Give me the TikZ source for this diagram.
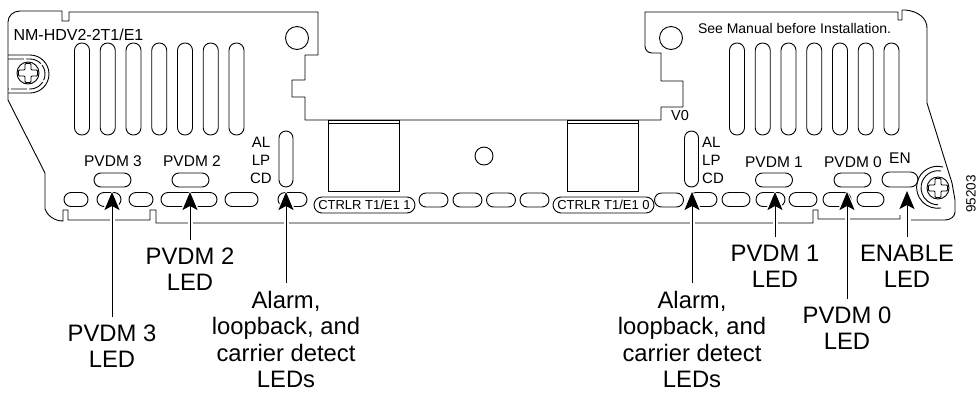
\documentclass[tikz,border=0pt]{standalone}
\usepackage{fontspec}
\setmainfont{Liberation Sans}
\usetikzlibrary{arrows.meta,positioning,shapes.misc}
\tikzset{
  panel/.style={draw,line width=0.9pt,line join=round},
  vslot/.style={draw,line width=0.9pt,rounded corners=7.4pt,minimum width=15pt,minimum height=92pt,inner sep=0pt},
  alslot/.style={vslot,rounded corners=7pt,minimum width=14pt,minimum height=56pt},
  led/.style={draw,line width=0.9pt,rounded rectangle,minimum width=#1,minimum height=14pt,inner sep=0pt},
  port/.style={draw,line width=0.9pt,minimum width=71pt,minimum height=71pt,inner sep=0pt},
  small/.style={inner sep=0pt,font=\fontsize{15.5}{18}\selectfont},
  callout/.style={inner sep=0pt,outer sep=8pt,align=center,font=\fontsize{23.8}{26.3}\selectfont},
  tip/.style={-{Stealth[length=18pt,width=15pt,inset=4pt]},line width=1pt,
    preaction={draw=white,line width=5pt,-{Stealth[length=24pt,width=22pt,inset=4pt]},shorten >=-2pt}},
  screw/.pic={
    \draw[line width=0.9pt] (0,0) circle (11);
    \draw[line width=0.9pt,rounded corners=1pt] (-3,-9.5) -- (3,-9.5) -- (3,-3) -- (9.5,-3) -- (9.5,3) -- (3,3) -- (3,9.5) -- (-3,9.5) -- (-3,3) -- (-9.5,3) -- (-9.5,-3) -- (-3,-3) -- cycle;
  }
}
\begin{document}
\begin{tikzpicture}[x=1pt,y=-1pt,node distance=25.75pt,on grid]
  \useasboundingbox (0,0) rectangle (978,392);
  % faceplate
  \draw[panel] (911,220) -- (945,220) .. controls (951,220) and (955,216) .. (955,212) -- (955,200) -- (952,183) -- (927,103) -- (927,28)
    .. controls (927,18) and (918,11) .. (905,10) -- (902,10) -- (902,20) -- (898,20) -- (898,12) -- (645,12) -- (645,46)
    .. controls (645,50) and (648,53) .. (652,53) -- (661,53) -- (661,81) -- (683,81) -- (683,107) -- (661,107) -- (661,120)
    -- (305,120) -- (305,97) -- (292,97) -- (292,80) -- (305,80) -- (305,55) -- (318,55) -- (318,12) -- (69,12) -- (69,21) -- (62,21) -- (62,11)
    -- (20,11) .. controls (13,11) and (8,16) .. (8,22) -- (8,100) -- (45,173) -- (45,209) .. controls (47,215) and (54,221) .. (63,221)
    -- (63,210) -- (68,210) -- (68,220) -- (150,220) -- (150,210) -- (156,210) -- (156,223) -- (813,223) -- (813,210) -- (818,210) -- (818,219) -- (900,219) -- (900,215);
  % screws
  \draw[panel] (8,55) -- (30,55) arc (-90:90:19) -- (8,93);
  \draw[panel,dash pattern=on 16pt off 2pt] (8,59) -- (30,59) arc (-90:90:15) -- (8,89);
  \pic at (28,73) {screw};
  \draw[panel] (943,167) arc (-75:-280:21);
  \draw[panel] (941,171) arc (-80:-270:17);
  \pic at (938,188) {screw};
  % holes
  \node[draw,line width=0.9pt,circle,minimum size=23pt,inner sep=0pt] (hole_l) at (297,38) {};
  \node[draw,line width=0.9pt,circle,minimum size=23pt,inner sep=0pt] (hole_r) at (671,38) {};
  \node[draw,line width=0.9pt,circle,minimum size=18pt,inner sep=0pt] (hole_m) at (484,156) {};
  % ports
  \node[port] (port_1) at (363.5,155.5) {};
  \node[port] (port_0) at (602.5,155.5) {};
  \draw[panel] ([yshift=-4pt]port_1.north west) -- ([yshift=-4pt]port_1.north east);
  \draw[panel] ([yshift=-4pt]port_0.north west) -- ([yshift=-4pt]port_0.north east);
  % vent slots
  \node[vslot]           (sl_0)                 at (82,89) {};
  \node[vslot]           (sl_1) [right=of sl_0] {};
  \node[vslot]           (sl_2) [right=of sl_1] {};
  \node[vslot]           (sl_3) [right=of sl_2] {};
  \node[vslot]           (sl_4) [right=of sl_3] {};
  \node[vslot]           (sl_5) [right=of sl_4] {};
  \node[vslot]           (sl_6) [right=of sl_5] {};
  \node[vslot]           (sr_0)                 at (737,89) {};
  \node[vslot]           (sr_1) [right=of sr_0] {};
  \node[vslot]           (sr_2) [right=of sr_1] {};
  \node[vslot]           (sr_3) [right=of sr_2] {};
  \node[vslot]           (sr_4) [right=of sr_3] {};
  \node[vslot]           (sr_5) [right=of sr_4] {};
  \node[vslot]           (sr_6) [right=of sr_5] {};
  \node[alslot]          (al_l)                 at (286,159) {};
  \node[alslot]          (al_r)                 at (691.5,159) {};
  % LEDs above the row
  \node[led=37pt]        (led_3) at (112.5,180) {};
  \node[led=37pt]        (led_2) at (190.5,180) {};
  \node[led=37pt]        (led_1) at (774,180) {};
  \node[led=37pt]        (led_0) at (852.5,180) {};
  \node[led=36pt,minimum height=15pt] (led_en) at (900,179.5) {};
  % row of ovals
  \node[led=24pt]        (ov_a) at (76,199.5) {};
  \node[led=24pt]        (ov_b) at (109,199.5) {};
  \node[led=24pt]        (ov_c) at (141,199.5) {};
  \node[led=56pt]        (ov_d) at (189,199.5) {};
  \node[led=33pt]        (ov_e) at (241.5,199.5) {};
  \node[led=29pt]        (ov_f) at (292.5,199.5) {};
  \node[led=29pt]        (ov_g) at (433.5,200) {};
  \node[led=29pt]        (ov_h) at (467.5,200) {};
  \node[led=29pt]        (ov_i) at (501,200) {};
  \node[led=29pt]        (ov_j) at (534.5,200) {};
  \node[led=29pt]        (ov_k) at (669,200) {};
  \node[led=28pt]        (ov_l) at (703,199.5) {};
  \node[led=28pt]        (ov_m) at (736,199.5) {};
  \node[led=29pt]        (ov_n) at (770.5,199.5) {};
  \node[led=28pt]        (ov_o) at (803,199.5) {};
  \node[led=28pt]        (ov_p) at (837,199.5) {};
  \node[led=27pt]        (ov_q) at (870.5,199.5) {};
  \node[led=101pt,minimum height=16pt,font=\fontsize{13}{15}\selectfont] (ctrlr_1) at (364.5,205) {CTRLR T1/E1 1};
  \node[led=101pt,minimum height=16pt,font=\fontsize{13}{15}\selectfont] (ctrlr_0) at (603.5,205) {CTRLR T1/E1 0};
  % faceplate text
  \node[small,font=\fontsize{16}{18}\selectfont] (model) at (78.5,35) {NM-HDV2-2T1/E1};
  \node[small,font=\fontsize{14}{16}\selectfont] (note)  at (794.5,28) {See Manual before Installation.};
  \node[small,font=\fontsize{14.5}{16}\selectfont] (ver) at (680,115.5) {V0};
  \node[small] (t_pv3) at (113,161) {PVDM 3};
  \node[small] (t_pv2) at (192,161) {PVDM 2};
  \node[small] (t_pv1) at (774,162) {PVDM 1};
  \node[small] (t_pv0) at (853,162) {PVDM 0};
  \node[small] (t_en)  at (900,158) {EN};
  \node[small,font=\fontsize{15}{18}\selectfont] (t_al)  at (261,142) {AL};
  \node[small,font=\fontsize{15}{18}\selectfont] (t_lp)  at (261,160) {LP};
  \node[small,font=\fontsize{15}{18}\selectfont] (t_cd)  at (261,178) {CD};
  \node[small,font=\fontsize{15}{18}\selectfont,anchor=west] (u_al)  at (702,142) {AL};
  \node[small,font=\fontsize{15}{18}\selectfont,anchor=west] (u_lp)  at (702,160) {LP};
  \node[small,font=\fontsize{15}{18}\selectfont,anchor=west] (u_cd)  at (702,178) {CD};
  \node[small,rotate=90,font=\fontsize{13.5}{16}\selectfont] (fig_no) at (971,194) {95203};
  % callouts
  \node[callout] (lbl_3)  at (112,346) {PVDM 3\\LED};
  \node[callout] (lbl_2)  at (190,269) {PVDM 2\\LED};
  \node[callout] (lbl_al) at (286,339.5) {Alarm,\\loopback, and\\carrier detect\\LEDs};
  \node[callout] (lbl_ar) at (692,339.5) {Alarm,\\loopback, and\\carrier detect\\LEDs};
  \node[callout] (lbl_1)  at (775,266) {PVDM 1\\LED};
  \node[callout] (lbl_0)  at (847,328) {PVDM 0\\LED};
  \node[callout] (lbl_en) at (907,266) {ENABLE\\LED};
  \coordinate (tip_3)  at (112,192);
  \coordinate (tip_2)  at (190,192);
  \coordinate (tip_al) at (286,192);
  \coordinate (tip_ar) at (692,192);
  \coordinate (tip_1)  at (775,192);
  \coordinate (tip_0)  at (847,192);
  \coordinate (tip_en) at (907,191);
  \path
   (lbl_3)  edge [tip] (tip_3)
   (lbl_2)  edge [tip] (tip_2)
   (lbl_al) edge [tip] (tip_al)
   (lbl_ar) edge [tip] (tip_ar)
   (lbl_1)  edge [tip] (tip_1)
   (lbl_0)  edge [tip] (tip_0)
   (lbl_en) edge [tip] (tip_en);
\end{tikzpicture}
\end{document}
